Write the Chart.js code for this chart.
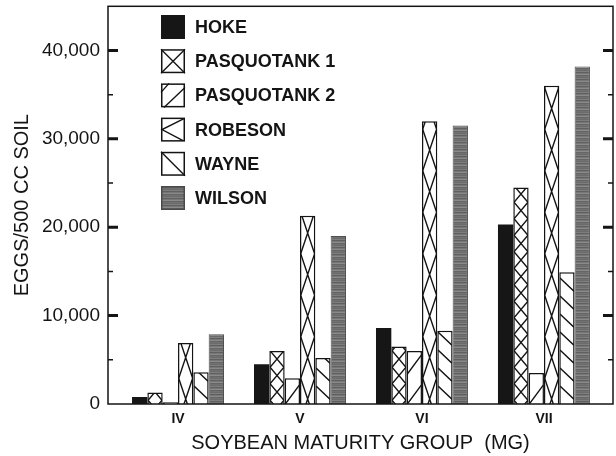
<!DOCTYPE html>
<html>
<head>
<meta charset="utf-8">
<script src="https://cdn.jsdelivr.net/npm/chart.js@4.4.1/dist/chart.umd.min.js"></script>
<style>
  html, body { margin: 0; padding: 0; background: #fff; }
  #wrap { width: 616px; height: 456px; }
</style>
</head>
<body>
<div id="wrap"><canvas id="c" width="616" height="456"></canvas></div>
<script>
// Maturity groups on the x axis
const groups = ['IV', 'V', 'VI', 'VII'];

// Egg counts per 500 cc soil, one array per county
const hoke        = [800, 4500, 8600, 20300];
const pasquotank1 = [1300, 6000, 6500, 24500];
const pasquotank2 = [200, 2900, 6000, 3500];
const robeson     = [6900, 21300, 32000, 36000];
const wayne       = [3600, 5200, 8300, 14900];
const wilson      = [7900, 19000, 31500, 38200];

const seriesNames = ['HOKE', 'PASQUOTANK 1', 'PASQUOTANK 2', 'ROBESON', 'WAYNE', 'WILSON'];
const seriesValues = [hoke, pasquotank1, pasquotank2, robeson, wayne, wilson];
const seriesFill = ['solid', 'xsmall', 'slash', 'xlarge', 'backslash', 'gray'];

// y axis tick values
const yMajorTicks = [0, 10000, 20000, 30000, 40000];
const yMinorTicks = [5000, 15000, 25000, 35000];

const INK = '#141414';
const FONT = '"Liberation Sans", Arial, Helvetica, sans-serif';

// horizontally streaked grey used for the WILSON bars
function makeGrayPattern() {
  const c = document.createElement('canvas');
  c.width = 4; c.height = 7;
  const g = c.getContext('2d');
  const rows = ['#6b6b6b', '#7e7e7e', '#606060', '#767676', '#8a8a8a', '#656565', '#717171'];
  rows.forEach((col, i) => { g.fillStyle = col; g.fillRect(0, i, 4, 1); });
  return g.createPattern(c, 'repeat');
}
const grayPattern = makeGrayPattern();

function fillColor(kind) {
  if (kind === 'solid') return '#161616';
  if (kind === 'gray') return grayPattern;
  return '#ffffff';
}

// line hatching inside a bar rectangle
function hatchRect(ctx, kind, L, T, R, B) {
  if (kind === 'solid' || kind === 'gray') return;
  const w = R - L;
  ctx.save();
  ctx.beginPath();
  ctx.rect(L, T, w, B - T);
  ctx.clip();
  ctx.strokeStyle = INK;
  ctx.lineWidth = 1.4;
  ctx.beginPath();
  if (kind === 'xsmall' || kind === 'xlarge') {
    const D = kind === 'xsmall' ? 16.5 : 41.5;
    const c0 = kind === 'xsmall' ? 12 : 5;
    for (let yc = B - c0 + 2 * D; yc > T - D; yc -= D) {
      ctx.moveTo(L, yc + D / 2); ctx.lineTo(R, yc - D / 2);
      ctx.moveTo(R, yc + D / 2); ctx.lineTo(L, yc - D / 2);
    }
  } else if (kind === 'slash') {
    const G = 30, s = 1.35;
    for (let y0 = B + G; y0 > T - G; y0 -= G) {
      ctx.moveTo(L, y0); ctx.lineTo(R, y0 - w * s);
    }
  } else if (kind === 'backslash') {
    const G = 18, s = 0.95;
    for (let y0 = B; y0 > T - w * s - G; y0 -= G) {
      ctx.moveTo(L, y0); ctx.lineTo(R, y0 + w * s);
    }
  }
  ctx.stroke();
  ctx.restore();
}

const hatchPlugin = {
  id: 'hatch',
  afterDatasetsDraw(chart) {
    const ctx = chart.ctx;
    chart.data.datasets.forEach((ds, i) => {
      const meta = chart.getDatasetMeta(i);
      meta.data.forEach(el => {
        const p = el.getProps(['x', 'y', 'base', 'width'], true);
        const L = p.x - p.width / 2, R = p.x + p.width / 2;
        const T = Math.min(p.y, p.base), B = Math.max(p.y, p.base);
        hatchRect(ctx, ds.fillKind, L + 0.7, T + 0.7, R - 0.7, B);
      });
    });
  }
};

// plot frame with inward tick marks on both vertical sides
const framePlugin = {
  id: 'frame',
  afterDraw(chart) {
    const ctx = chart.ctx;
    const a = chart.chartArea;
    const ys = chart.scales.y;
    ctx.save();
    ctx.strokeStyle = INK;
    ctx.lineWidth = 1.5;
    ctx.strokeRect(a.left, a.top, a.right - a.left, a.bottom - a.top);
    ctx.lineCap = 'butt';
    yMajorTicks.forEach(v => {
      if (v === 0) return;
      const y = ys.getPixelForValue(v);
      ctx.lineWidth = 3;
      ctx.beginPath();
      ctx.moveTo(a.left, y); ctx.lineTo(a.left + 10, y);
      ctx.moveTo(a.right, y); ctx.lineTo(a.right - 10, y);
      ctx.stroke();
    });
    yMinorTicks.forEach(v => {
      const y = ys.getPixelForValue(v);
      ctx.lineWidth = 1.5;
      ctx.beginPath();
      ctx.moveTo(a.left, y); ctx.lineTo(a.left + 5, y);
      ctx.moveTo(a.right, y); ctx.lineTo(a.right - 5, y);
      ctx.stroke();
    });
    ctx.restore();
  }
};

// legend column in the upper left of the plot
const legendPlugin = {
  id: 'boxLegend',
  afterDraw(chart) {
    const ctx = chart.ctx;
    const x0 = 161, y0 = 15, size = 24, step = 34.2;
    ctx.save();
    chart.data.datasets.forEach((ds, i) => {
      const L = x0, T = y0 + i * step, R = L + size, B = T + size;
      const kind = ds.fillKind;
      ctx.fillStyle = fillColor(kind);
      ctx.fillRect(L, T, size, size);
      ctx.strokeStyle = kind === 'gray' ? '#4a4a4a' : INK;
      ctx.lineWidth = 1.5;
      if (kind !== 'solid') ctx.strokeRect(L + 0.75, T + 0.75, size - 1.5, size - 1.5);
      ctx.strokeStyle = INK;
      ctx.lineWidth = 1.4;
      ctx.beginPath();
      if (kind === 'xsmall') {
        ctx.moveTo(L, T); ctx.lineTo(R, B);
        ctx.moveTo(R, T); ctx.lineTo(L, B);
      } else if (kind === 'slash') {
        ctx.moveTo(L + 3, B); ctx.lineTo(R, T + 4);
        ctx.moveTo(L, T + 9); ctx.lineTo(L + 8, T);
      } else if (kind === 'xlarge') {
        ctx.moveTo(R - 1, T + 1); ctx.lineTo(L + 1, T + size / 2); ctx.lineTo(R - 2, B - 1);
      } else if (kind === 'backslash') {
        ctx.moveTo(L, T); ctx.lineTo(R, B);
      }
      ctx.stroke();
      ctx.fillStyle = INK;
      ctx.font = 'bold 18px ' + FONT;
      ctx.textAlign = 'left';
      ctx.textBaseline = 'middle';
      ctx.fillText(ds.label, 195, T + size / 2 + 1);
    });
    ctx.restore();
  }
};

const datasets = seriesNames.map((name, i) => ({
  label: name,
  fillKind: seriesFill[i],
  data: seriesValues[i].map((v, j) => ({ x: j, y: v })),
  backgroundColor: fillColor(seriesFill[i]),
  borderColor: seriesFill[i] === 'gray' ? '#505050' : INK,
  borderWidth: seriesFill[i] === 'solid' ? 0 : (seriesFill[i] === 'gray' ? 1 : 1.5),
  borderSkipped: 'start',
  barPercentage: 1.0,
  categoryPercentage: 0.754
}));

new Chart(document.getElementById('c'), {
  type: 'bar',
  data: { datasets },
  options: {
    responsive: false,
    devicePixelRatio: 1,
    animation: false,
    layout: { padding: { left: 0, right: 3, top: 6.3, bottom: 0 } },
    plugins: { legend: { display: false }, tooltip: { enabled: false } },
    scales: {
      x: {
        type: 'linear',
        min: -0.574,
        max: 3.566,
        offset: false,
        grid: { display: false, drawTicks: false },
        border: { display: false },
        afterBuildTicks: s => { s.ticks = groups.map((g, i) => ({ value: i })); },
        afterFit: s => { s.height = 52; s.paddingLeft = 0; s.paddingRight = 0; },
        ticks: {
          autoSkip: false,
          maxRotation: 0,
          padding: 7,
          color: INK,
          font: { family: FONT, size: 14, weight: 'bold' },
          callback: v => groups[v] !== undefined ? groups[v] : ''
        },
        title: {
          display: true,
          text: 'SOYBEAN MATURITY GROUP  (MG)',
          color: INK,
          font: { family: FONT, size: 20 },
          padding: { top: 0, bottom: 1 }
        }
      },
      y: {
        min: 0,
        max: 45000,
        grid: { display: false, drawTicks: false },
        border: { display: false },
        afterBuildTicks: s => { s.ticks = yMajorTicks.map(v => ({ value: v })); },
        afterFit: s => { s.width = 108; s.paddingTop = 0; s.paddingBottom = 0; },
        ticks: {
          autoSkip: false,
          padding: 8,
          color: INK,
          font: { family: FONT, size: 19 },
          callback: v => v.toLocaleString('en-US')
        },
        title: {
          display: true,
          text: 'EGGS/500 CC SOIL',
          color: INK,
          font: { family: FONT, size: 20 },
          padding: { top: 10, bottom: 0 }
        }
      }
    }
  },
  plugins: [hatchPlugin, framePlugin, legendPlugin]
});
</script>
</body>
</html>
